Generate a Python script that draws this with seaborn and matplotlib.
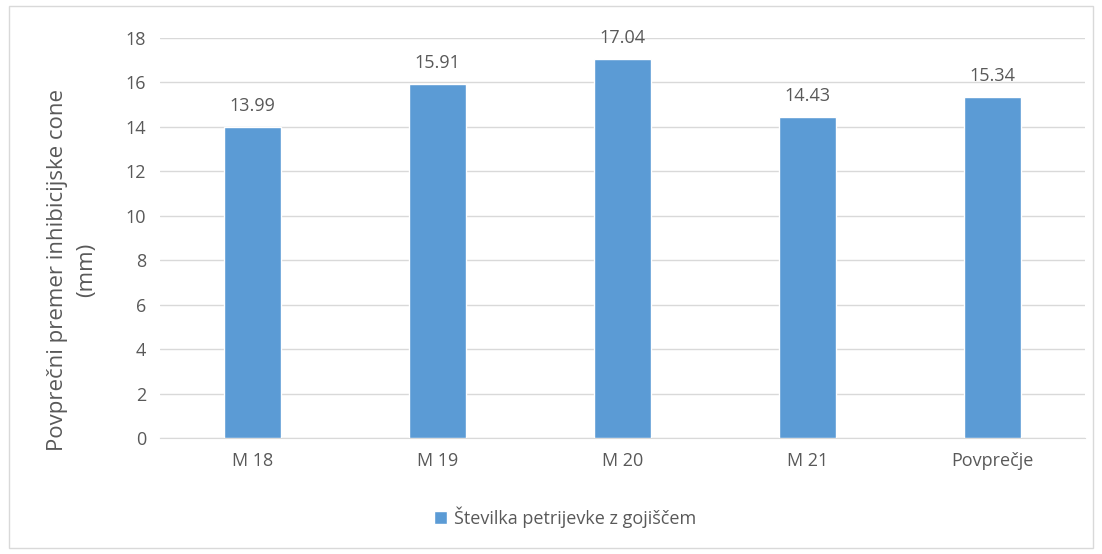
import matplotlib
matplotlib.use("Agg")
import matplotlib.pyplot as plt
import seaborn as sns
import pandas as pd

# values
categories = ["M 18", "M 19", "M 20", "M 21", "Povprečje"]
values = [13.99, 15.91, 17.04, 14.43, 15.34]
series_name = "Številka petrijevke z gojiščem"
y_ticks = [0, 2, 4, 6, 8, 10, 12, 14, 16, 18]

df = pd.DataFrame({"cat": categories, "val": values})

sns.set_style("white")
plt.rcParams["font.family"] = ["Open Sans", "DejaVu Sans"]
text_col = "#595959"
grid_col = "#d9d9d9"

fig = plt.figure(figsize=(11.02, 5.54), dpi=100)
ax = fig.add_axes([160 / 1102, 1 - 438 / 554, 925 / 1102, 400 / 554])

sns.barplot(data=df, x="cat", y="val", color="#5b9bd5", width=0.31,
            saturation=1, label=series_name, ax=ax, zorder=3)

ax.bar_label(ax.containers[0], fmt="%.2f", padding=9, fontsize=13, color=text_col)

ax.set_ylim(0, 18)
ax.set_yticks(y_ticks)
ax.yaxis.grid(True, color=grid_col, linewidth=1, zorder=0)
for side in ["top", "right", "left"]:
    ax.spines[side].set_visible(False)
ax.spines["bottom"].set_color(grid_col)
ax.tick_params(axis="both", length=0, labelsize=13, colors=text_col, pad=10)
ax.set_xlabel("")
ax.set_ylabel("Povprečni premer inhibicijske cone\n(mm)", fontsize=16, color=text_col,
              linespacing=1.5)
ax.yaxis.set_label_coords(-0.068, 0.42)

ax.legend(loc="upper center", bbox_to_anchor=(0.438, -0.13), frameon=False,
          fontsize=13, labelcolor=text_col, handlelength=0.7, handleheight=0.7,
          handletextpad=0.4)

# light frame around whole chart
fig.patches.append(plt.Rectangle((0.008, 0.01), 0.984, 0.98, transform=fig.transFigure,
                                 fill=False, edgecolor=grid_col, linewidth=1))

fig.savefig("out.png", dpi=100)
